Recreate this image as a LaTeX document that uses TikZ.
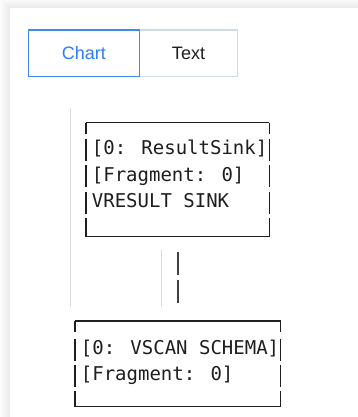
\documentclass[tikz,border=0pt]{standalone}
\usepackage{fontspec}
\setmainfont{Liberation Sans}
\newfontfamily\asciimono{DejaVu Sans Mono}
\definecolor{tabblue}{HTML}{3E8BF7}
\definecolor{tabtext}{HTML}{2F7CF6}
\definecolor{tabgray}{HTML}{D3DAE4}
\definecolor{inkdark}{HTML}{1E1E1E}
\definecolor{guidegray}{HTML}{DCDCDC}
\tikzset{
  tab/.style={draw, line width=1.1pt, inner sep=0pt, minimum height=46.7pt,
    font=\fontsize{18}{20}\selectfont},
  boxarea/.style={inner sep=0pt, outer sep=0pt},
  frame/.style={draw=inkdark, line width=1.4pt},
  % side bars of the three-row box: corner tick, one bar per row, closing bar
  bars three/.style={frame, dash pattern=on 11pt off 4.8pt on 22pt off 4.5pt on 22pt off 4.5pt on 22pt off 4.5pt on 30pt off 10pt},
  % side bars of the two-row box
  bars two/.style={frame, dash pattern=on 11pt off 6.5pt on 22pt off 4pt on 22pt off 4.5pt on 30pt off 10pt},
  mono/.style={inner sep=0pt, anchor=west, text=inkdark, text height=0.76em, text depth=0.13em,
    font=\asciimono\fontsize{19}{26}\selectfont},
  link/.style={draw=inkdark!85, line width=2pt, dash pattern=on 23.3pt off 5pt},
  guide/.style={draw=guidegray, line width=1.5pt}
}
\begin{document}
\begin{tikzpicture}[x=1pt,y=-1pt]
\useasboundingbox (0,0) rectangle (358,417);
% soft shadow round the card
\foreach \i in {1,...,10}
  \fill[black, opacity=0.008] (10-\i,8-\i) rectangle (380,440);
\fill[white] (10,8) rectangle (380,440);

% view switch tabs
\node[tab, draw=tabgray, text=inkdark, minimum width=98.4pt] (texttab) at (188.5,53.35) {Text};
\node[tab, draw=tabblue, text=tabtext, minimum width=111pt] (charttab) at (83.8,53.35) {Chart};

% tree guide lines
\coordinate (g1a) at (70.3,108.3);
\coordinate (g1b) at (70.3,306.7);
\coordinate (g2a) at (161.7,250);
\coordinate (g2b) at (161.7,306.7);
\draw[guide] (g1a) -- (g1b);
\draw[guide] (g2a) -- (g2b);

% result sink box
\node[boxarea, minimum width=183.3pt, minimum height=114pt] (box1) at (177.65,179.7) {};
\draw[frame] (box1.north west) -- (box1.north east);
\draw[frame] (box1.south west) -- (box1.south east);
\draw[bars three] (box1.north west) -- (box1.south west);
\draw[bars three] (box1.north east) -- (box1.south east);
\node[mono] (b1r1) at (91.7,151.5) {[0: ResultSink]};
\node[mono] (b1r2) at (91.7,178) {[Fragment: 0]};
\node[mono] (b1r3) at (91.7,204.5) {VRESULT SINK};

% scan box
\node[boxarea, minimum width=205.7pt, minimum height=85.5pt] (box2) at (177.85,363.75) {};
\draw[frame] (box2.north west) -- (box2.north east);
\draw[frame] (box2.south west) -- (box2.south east);
\draw[bars two] (box2.north west) -- (box2.south west);
\draw[bars two] (box2.north east) -- (box2.south east);
\node[mono] (b2r1) at (80.7,351.5) {[0: VSCAN SCHEMA]};
\node[mono] (b2r2) at (80.7,377.5) {[Fragment: 0]};

% link between the two boxes
\draw[link, shorten <=15pt, shorten >=17.7pt] (box1.south) -- (box1.south |- box2.north);
\end{tikzpicture}
\end{document}
